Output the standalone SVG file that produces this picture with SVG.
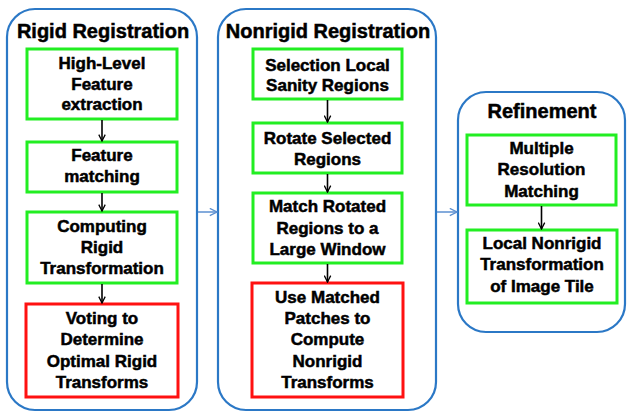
<svg xmlns="http://www.w3.org/2000/svg" width="627" height="412" viewBox="0 0 627 412">
<defs>
<marker id="ah" viewBox="0 0 10 10" refX="9" refY="5" markerWidth="8" markerHeight="8" markerUnits="userSpaceOnUse" orient="auto">
<path d="M1,1 L9,5 L1,9" fill="none" stroke="#000" stroke-width="1.6"/>
</marker>
<marker id="bh" viewBox="0 0 10 10" refX="9" refY="5" markerWidth="9" markerHeight="9" markerUnits="userSpaceOnUse" orient="auto">
<path d="M1,1 L9,5 L1,9" fill="none" stroke="#5b8fd0" stroke-width="1.5"/>
</marker>
</defs>
<style>
.cont{fill:#fff;stroke:#2b78c6;stroke-width:2.2}
.g{fill:#fff;stroke:#22ee22;stroke-width:3}
.r{fill:#fff;stroke:#ff1111;stroke-width:3}
text{font-family:"Liberation Sans",Arial,sans-serif;font-weight:bold;fill:#000;stroke:#000;stroke-width:0.5;text-anchor:middle}
.t{font-size:20px}
.b{font-size:17px}
.a{stroke:#000;stroke-width:1.6;fill:none;marker-end:url(#ah)}
.ba{stroke:#5b8fd0;stroke-width:1.5;fill:none;marker-end:url(#bh)}
</style>
<rect width="627" height="412" fill="#fff"/>
<g id="rigid">
<rect class="cont" x="7" y="9" width="190" height="401" rx="28"/>
<text class="t" x="103" y="38">Rigid Registration</text>
</g>
<g id="nonrigid">
<rect class="cont" x="218" y="9" width="218" height="401" rx="28"/>
<text class="t" x="328" y="38">Nonrigid Registration</text>
</g>
<g id="refinement">
<rect class="cont" x="458" y="92" width="167" height="240" rx="28"/>
<text class="t" x="542" y="118">Refinement</text>
</g>
<g id="r1"><rect class="g" x="27" y="49" width="150" height="70"/>
<text class="b" x="102" y="69">High-Level</text><text class="b" x="102" y="90">Feature</text><text class="b" x="102" y="110">extraction</text></g>
<g id="r2"><rect class="g" x="27" y="142" width="150" height="50"/>
<text class="b" x="102" y="161">Feature</text><text class="b" x="102" y="182">matching</text></g>
<g id="r3"><rect class="g" x="27" y="212" width="150" height="71"/>
<text class="b" x="102" y="232">Computing</text><text class="b" x="102" y="253">Rigid</text><text class="b" x="102" y="274">Transformation</text></g>
<g id="r4"><rect class="r" x="26" y="304" width="152" height="93"/>
<text class="b" x="102" y="324">Voting to</text><text class="b" x="102" y="345">Determine</text><text class="b" x="102" y="367">Optimal Rigid</text><text class="b" x="102" y="388">Transforms</text></g>
<g id="n1"><rect class="g" x="253" y="49" width="149" height="50"/>
<text class="b" x="327.5" y="71">Selection Local</text><text class="b" x="327.5" y="91">Sanity Regions</text></g>
<g id="n2"><rect class="g" x="253" y="123" width="149" height="50"/>
<text class="b" x="327.5" y="144">Rotate Selected</text><text class="b" x="327.5" y="165">Regions</text></g>
<g id="n3"><rect class="g" x="253" y="193" width="149" height="70"/>
<text class="b" x="327.5" y="212">Match Rotated</text><text class="b" x="327.5" y="234">Regions to a</text><text class="b" x="327.5" y="255">Large Window</text></g>
<g id="n4"><rect class="r" x="252" y="283" width="151" height="114"/>
<text class="b" x="327.5" y="303">Use Matched</text><text class="b" x="327.5" y="324">Patches to</text><text class="b" x="327.5" y="345">Compute</text><text class="b" x="327.5" y="367">Nonrigid</text><text class="b" x="327.5" y="388">Transforms</text></g>
<g id="f1"><rect class="g" x="467" y="135" width="149" height="70"/>
<text class="b" x="541.5" y="154">Multiple</text><text class="b" x="541.5" y="175">Resolution</text><text class="b" x="541.5" y="197">Matching</text></g>
<g id="f2"><rect class="g" x="467" y="230" width="150" height="73"/>
<text class="b" x="542" y="249">Local Nonrigid</text><text class="b" x="542" y="270">Transformation</text><text class="b" x="542" y="292">of Image Tile</text></g>
<g id="connectors">
<line class="a" x1="102" y1="120" x2="102" y2="141"/>
<line class="a" x1="102" y1="193" x2="102" y2="211"/>
<line class="a" x1="102" y1="284" x2="102" y2="303"/>
<line class="a" x1="327.5" y1="100" x2="327.5" y2="122"/>
<line class="a" x1="327.5" y1="174" x2="327.5" y2="192"/>
<line class="a" x1="327.5" y1="264" x2="327.5" y2="282"/>
<line class="a" x1="541.5" y1="206" x2="541.5" y2="229"/>
<line class="ba" x1="198" y1="212" x2="217" y2="212"/>
<line class="ba" x1="437" y1="212" x2="457" y2="212"/>
</g>
</svg>
